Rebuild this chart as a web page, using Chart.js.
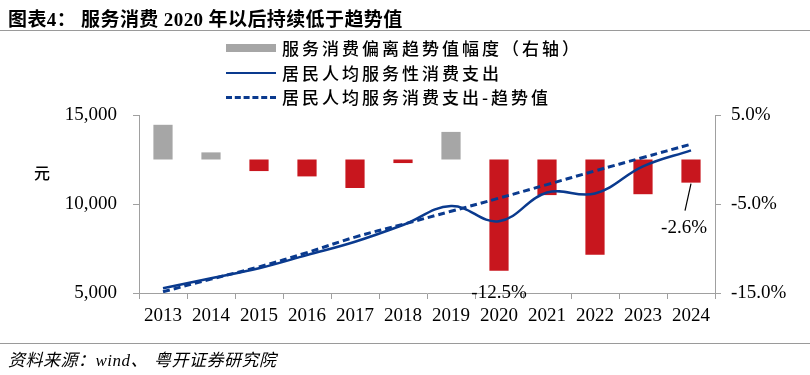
<!DOCTYPE html>
<html>
<head>
<meta charset="utf-8">
<script src="https://cdn.jsdelivr.net/npm/chart.js@4/dist/chart.umd.min.js"></script>
<style>
  html, body { margin: 0; padding: 0; background: #fff; }
  #wrap { position: relative; width: 810px; height: 375px; overflow: hidden; }
  #wrap canvas { position: absolute; left: 0; top: 0; }
  .title {
    position: absolute; left: 8px; top: 4px;
    font: bold 19px "Liberation Serif", "Noto Sans CJK SC", serif;
    letter-spacing: 0.4px; color: #000; white-space: nowrap;
  }
  .title .p { margin-right: 5px; }
  .rule { position: absolute; left: 0; width: 810px; height: 1px; background: #9a9a9a; }
  .legend { position: absolute; left: 226px; top: 36px; }
  .legend .row { position: relative; height: 24.5px; }
  .legend .sym { position: absolute; left: 0; top: 8px; width: 50px; }
  .legend .txt {
    position: absolute; left: 56px; top: 0; white-space: nowrap;
    font: 500 17px "Noto Sans CJK SC", sans-serif; letter-spacing: 3px; color: #000;
    line-height: 24px;
  }
  .unit {
    position: absolute; left: 34px; top: 160px;
    font: 500 16px "Noto Sans CJK SC", sans-serif; color: #000;
  }
  .source {
    position: absolute; left: 8px; top: 346px; white-space: nowrap;
    font: italic 17px "Liberation Serif", "Noto Sans CJK SC", serif; color: #000;
    letter-spacing: 0.5px;
  }
  .source .p { margin-right: 6px; }
</style>
</head>
<body>
<div id="wrap">
  <canvas id="c" width="810" height="375"></canvas>
  <div class="title">图表4<span class="p">：</span>服务消费 2020 年以后持续低于趋势值</div>
  <div class="rule" style="top:30px"></div>
  <div class="legend">
    <div class="row">
      <div class="sym" style="height:8px;background:#a6a6a6;top:8px"></div>
      <div class="txt">服务消费偏离趋势值幅度（右轴）</div>
    </div>
    <div class="row">
      <div class="sym" style="height:0;border-top:2.5px solid #0a3a8e;top:11px"></div>
      <div class="txt">居民人均服务性消费支出</div>
    </div>
    <div class="row">
      <div class="sym" style="height:0;border-top:3px dashed #0a3a8e;top:11px"></div>
      <div class="txt">居民人均服务消费支出-趋势值</div>
    </div>
  </div>
  <div class="unit">元</div>
  <div class="rule" style="top:343px"></div>
  <div class="source">资料来源：wind<span class="p">、</span>粤开证券研究院</div>
</div>
<script>
const years = ["2013", "2014", "2015", "2016", "2017", "2018", "2019", "2020", "2021", "2022", "2023", "2024"];
// 服务消费偏离趋势值幅度 (%), right axis
const deviation = [3.9, 0.8, -1.3, -1.9, -3.2, -0.4, 3.1, -12.5, -4.0, -10.7, -3.9, -2.6];
// 居民人均服务性消费支出 (元)
const serviceSpend = [5270, 5830, 6390, 7130, 7880, 8820, 9886, 9037, 10645, 10590, 12114, 13016];
// 趋势值 (元)
const trendSpend = [5070, 5780, 6470, 7270, 8140, 8860, 9590, 10330, 11090, 11860, 12610, 13360];
const leftTicks = [5000, 10000, 15000];
const rightTicks = [-15, -5, 5];
const labelledYears = ["2020", "2024"];

const GREY = "#a6a6a6";
const RED = "#c8161e";
const BLUE = "#0a3a8e";
const AXIS = "#a0a0a0";
const tickFont = { family: "'Liberation Serif', serif", size: 19 };

const pctLabels = {
  id: "pctLabels",
  afterDatasetsDraw(chart) {
    const { ctx } = chart;
    const meta = chart.getDatasetMeta(0);
    ctx.save();
    ctx.font = "19px 'Liberation Serif', serif";
    ctx.fillStyle = "#000";
    ctx.textAlign = "center";
    ctx.textBaseline = "middle";
    labelledYears.forEach((yr) => {
      const i = years.indexOf(yr);
      const bar = meta.data[i];
      const text = deviation[i].toFixed(1) + "%";
      if (i === years.length - 1) {
        ctx.strokeStyle = "#000";
        ctx.lineWidth = 1.2;
        ctx.beginPath();
        ctx.moveTo(bar.x, bar.y + 1);
        ctx.lineTo(bar.x - 6, bar.y + 28);
        ctx.stroke();
        ctx.fillText(text, bar.x - 7, bar.y + 45);
      } else {
        ctx.fillText(text, bar.x, bar.y + 22);
      }
    });
    ctx.restore();
  },
};

new Chart(document.getElementById("c"), {
  data: {
    labels: years,
    datasets: [
      {
        type: "bar",
        label: "服务消费偏离趋势值幅度（右轴）",
        data: deviation,
        yAxisID: "y1",
        backgroundColor: deviation.map((v) => (v >= 0 ? GREY : RED)),
        barPercentage: 0.4,
        categoryPercentage: 1,
        order: 3,
      },
      {
        type: "line",
        label: "居民人均服务性消费支出",
        data: serviceSpend,
        yAxisID: "y",
        borderColor: BLUE,
        borderWidth: 2.5,
        pointRadius: 0,
        tension: 0.4,
        order: 1,
      },
      {
        type: "line",
        label: "居民人均服务消费支出-趋势值",
        data: trendSpend,
        yAxisID: "y",
        borderColor: BLUE,
        borderWidth: 3,
        borderDash: [7, 4],
        pointRadius: 0,
        tension: 0.4,
        order: 2,
      },
    ],
  },
  options: {
    responsive: false,
    animation: false,
    layout: { padding: { top: 115, left: 0, right: 0, bottom: 0 } },
    plugins: { legend: { display: false }, tooltip: { enabled: false } },
    scales: {
      x: {
        type: "category",
        offset: true,
        afterFit: (s) => { s.height = 82; },
        border: { display: true, color: AXIS, width: 1 },
        grid: { offset: true, drawOnChartArea: false, drawTicks: true, tickLength: 6, color: AXIS },
        ticks: { color: "#000", font: tickFont, padding: 6, maxRotation: 0, autoSkip: false },
      },
      y: {
        position: "left",
        min: 5000,
        max: 15000,
        afterFit: (s) => { s.width = 139; },
        afterBuildTicks: (s) => { s.ticks = leftTicks.map((v) => ({ value: v })); },
        border: { display: true, color: AXIS, width: 1 },
        grid: { drawOnChartArea: false, drawTicks: true, tickLength: 6, color: AXIS },
        ticks: {
          color: "#000",
          font: tickFont,
          padding: 16,
          callback: (v) => v.toLocaleString("en-US"),
        },
      },
      y1: {
        position: "right",
        min: -15,
        max: 5,
        afterFit: (s) => { s.width = 95; },
        afterBuildTicks: (s) => { s.ticks = rightTicks.map((v) => ({ value: v })); },
        border: { display: true, color: AXIS, width: 1 },
        grid: { drawOnChartArea: false, drawTicks: true, tickLength: 6, color: AXIS },
        ticks: {
          color: "#000",
          font: tickFont,
          padding: 10,
          callback: (v) => v.toFixed(1) + "%",
        },
      },
    },
  },
  plugins: [pctLabels],
});
</script>
</body>
</html>
